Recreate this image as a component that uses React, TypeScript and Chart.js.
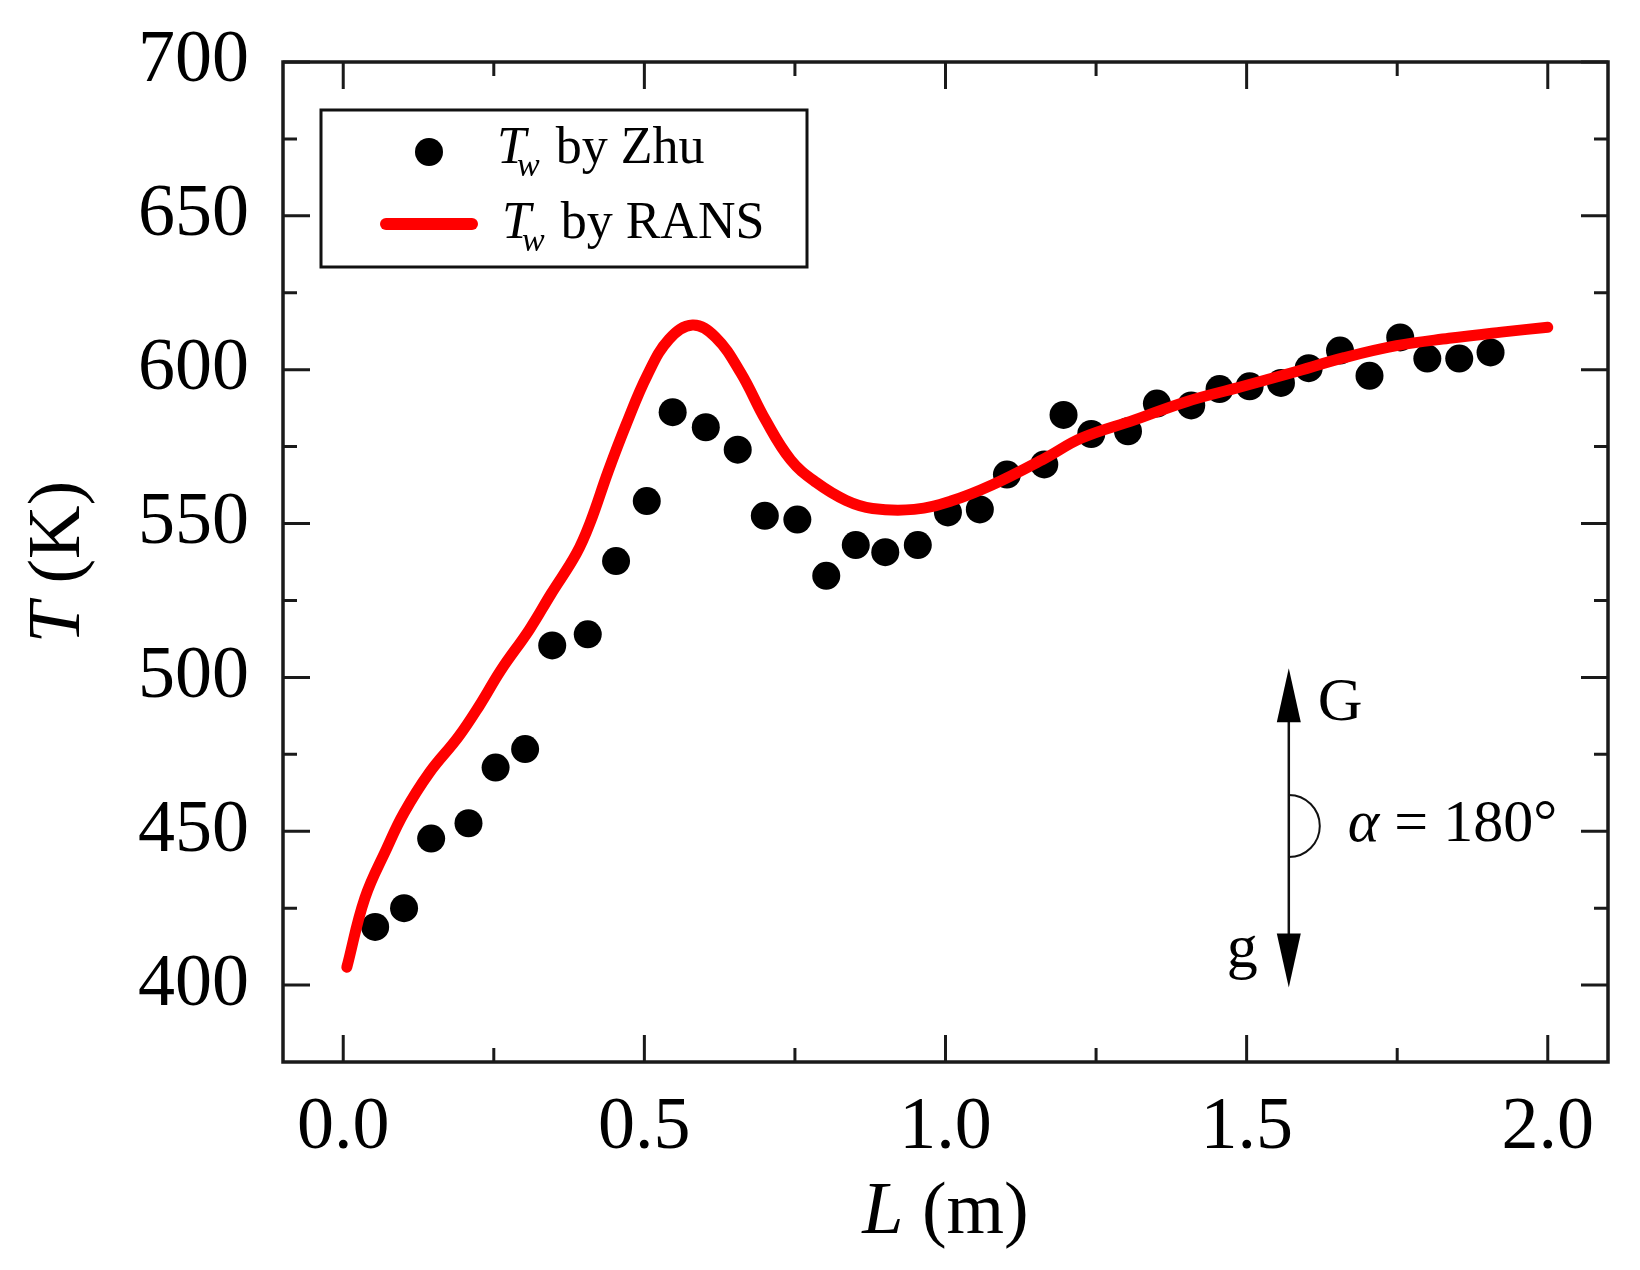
import React, { useEffect, useRef } from "react";
import { Chart, registerables } from "chart.js";

Chart.register(...registerables);

// Experimental wall temperature (Zhu)
const ZHU_L = [0.053, 0.101, 0.146, 0.208, 0.253, 0.302, 0.347, 0.406, 0.453, 0.504,
  0.547, 0.602, 0.655, 0.700, 0.754, 0.802, 0.851, 0.900, 0.954, 1.004,
  1.057, 1.102, 1.164, 1.196, 1.242, 1.303, 1.351, 1.408, 1.455, 1.505,
  1.557, 1.603, 1.655, 1.704, 1.755, 1.800, 1.853, 1.905];
const ZHU_T = [418.9, 425, 447.6, 452.6, 470.7, 476.7, 510.4, 514, 537.8, 557.3,
  586.2, 581.3, 574, 552.5, 551.3, 533, 543, 540.7, 543, 553.6,
  554.6, 565.9, 569.2, 585.3, 579.1, 580, 589, 588.4, 593.7, 594.6,
  595.7, 600.5, 606.2, 598, 610.5, 603.6, 603.6, 605.6];

// RANS wall temperature
const RANS_L = [0.006, 0.036, 0.072, 0.101, 0.143, 0.191, 0.226, 0.262, 0.309, 0.345,
  0.387, 0.410, 0.440, 0.470, 0.505, 0.541, 0.580, 0.618, 0.660, 0.701,
  0.743, 0.785, 0.835, 0.879, 0.948, 1.009, 1.078, 1.165, 1.226, 1.314,
  1.401, 1.488, 1.575, 1.662, 1.749, 1.836, 1.923, 2.0];
const RANS_T = [405.8, 428.3, 444.3, 456, 469, 480.6, 490.8, 502.4, 515.5, 527.1,
  540.2, 550.3, 567, 582.3, 598.3, 609.9, 614.5, 610.6, 599, 583.7,
  570.7, 563.4, 557.5, 554.9, 554.6, 557.3, 562.6, 571.2, 577.8, 583.7,
  589.7, 594.3, 599, 603.9, 607.8, 610.2, 612.2, 613.8];

const X_TICKS = [0, 0.5, 1.0, 1.5, 2.0];
const X_MINOR = [0.25, 0.75, 1.25, 1.75];
const Y_TICKS = [400, 450, 500, 550, 600, 650, 700];
const Y_MINOR = [425, 475, 525, 575, 625, 675];
const X_MIN = -0.1;
const X_MAX = 2.1;
const Y_MIN = 375;
const Y_MAX = 700;

const LEGEND_TEXT = ["by Zhu", "by RANS"];
const X_TITLE = ["L", " (m)"];
const Y_TITLE = ["T", " (K)"];
const ANGLE_TEXT = ["\u03B1", " = 180\u00B0"];

const SERIF = '"Liberation Serif", "Times New Roman", serif';

type Run = { text: string; font: string; dy?: number; dx?: number };

function drawRuns(ctx: CanvasRenderingContext2D, runs: Run[], x: number, y: number) {
  let cx = x;
  for (const r of runs) {
    ctx.font = r.font;
    cx += r.dx || 0;
    ctx.fillText(r.text, cx, y + (r.dy || 0));
    cx += ctx.measureText(r.text).width;
  }
  return cx - x;
}

function runsWidth(ctx: CanvasRenderingContext2D, runs: Run[]) {
  let w = 0;
  for (const r of runs) {
    ctx.font = r.font;
    w += (r.dx || 0) + ctx.measureText(r.text).width;
  }
  return w;
}

const decorPlugin = {
  id: "decor",
  beforeDraw(chart: any) {
    const ctx = chart.ctx;
    ctx.save();
    ctx.fillStyle = "#ffffff";
    ctx.fillRect(0, 0, chart.width, chart.height);
    ctx.restore();
  },
  afterDraw(chart: any) {
    const ctx: CanvasRenderingContext2D = chart.ctx;
    const { left, right, top, bottom } = chart.chartArea;
    const xs = chart.scales.x;
    const ys = chart.scales.y;
    ctx.save();

    // inward ticks on all four sides
    const MAJ = 27;
    const MIN = 14;
    ctx.strokeStyle = "#1a1a1a";
    ctx.lineWidth = 3;
    ctx.beginPath();
    const xt = (vals: number[], len: number) => {
      for (const v of vals) {
        const p = xs.getPixelForValue(v);
        ctx.moveTo(p, bottom);
        ctx.lineTo(p, bottom - len);
        ctx.moveTo(p, top);
        ctx.lineTo(p, top + len);
      }
    };
    const yt = (vals: number[], len: number) => {
      for (const v of vals) {
        const p = ys.getPixelForValue(v);
        ctx.moveTo(left, p);
        ctx.lineTo(left + len, p);
        ctx.moveTo(right, p);
        ctx.lineTo(right - len, p);
      }
    };
    xt(X_TICKS, MAJ);
    xt(X_MINOR, MIN);
    yt(Y_TICKS, MAJ);
    yt(Y_MINOR, MIN);
    ctx.stroke();

    // frame
    ctx.lineWidth = 3.5;
    ctx.strokeRect(left, top, right - left, bottom - top);

    ctx.fillStyle = "#000";
    ctx.textBaseline = "alphabetic";
    ctx.textAlign = "left";

    // x title
    const xRuns: Run[] = [
      { text: X_TITLE[0], font: `italic 74px ${SERIF}` },
      { text: X_TITLE[1], font: `74px ${SERIF}` },
    ];
    const xw = runsWidth(ctx, xRuns);
    drawRuns(ctx, xRuns, (left + right) / 2 - xw / 2, 1233);

    // y title (rotated)
    const yRuns: Run[] = [
      { text: Y_TITLE[0], font: `italic 74px ${SERIF}` },
      { text: Y_TITLE[1], font: `74px ${SERIF}` },
    ];
    const yw = runsWidth(ctx, yRuns);
    ctx.save();
    ctx.translate(60, (top + bottom) / 2);
    ctx.rotate(-Math.PI / 2);
    drawRuns(ctx, yRuns, -yw / 2, 19);
    ctx.restore();

    // legend
    const lx = left + 38;
    const ly = top + 48;
    const lw = 486;
    const lh = 157;
    ctx.fillStyle = "#fff";
    ctx.fillRect(lx, ly, lw, lh);
    ctx.strokeStyle = "#111";
    ctx.lineWidth = 3;
    ctx.strokeRect(lx, ly, lw, lh);

    ctx.fillStyle = "#000";
    ctx.beginPath();
    ctx.arc(lx + 108, ly + 42, 14, 0, Math.PI * 2);
    ctx.fill();

    ctx.strokeStyle = "#ff0000";
    ctx.lineWidth = 12;
    ctx.lineCap = "round";
    ctx.beginPath();
    ctx.moveTo(lx + 65, ly + 114);
    ctx.lineTo(lx + 151, ly + 114);
    ctx.stroke();
    ctx.lineCap = "butt";

    const legRow = (label: string, x: number, y: number) => {
      ctx.fillStyle = "#000";
      ctx.font = `italic 52px ${SERIF}`;
      ctx.fillText("T", x, y);
      ctx.font = `italic 34px ${SERIF}`;
      ctx.fillText("w", x + 20, y + 13);
      const ww = ctx.measureText("w").width;
      ctx.font = `52px ${SERIF}`;
      ctx.fillText(label, x + 20 + ww + 16, y);
    };
    legRow(LEGEND_TEXT[0], lx + 176, ly + 53);
    legRow(LEGEND_TEXT[1], lx + 181, ly + 128);

    // gravity annotation
    const ax = xs.getPixelForValue(1.57);
    const tipTop = ys.getPixelForValue(503);
    const tipBot = ys.getPixelForValue(399.2);
    const arcY = ys.getPixelForValue(451.7);
    const HL = 54;
    const HW = 12;
    ctx.strokeStyle = "#111";
    ctx.lineWidth = 2.5;
    ctx.beginPath();
    ctx.moveTo(ax, tipTop + HL - 2);
    ctx.lineTo(ax, tipBot - HL + 2);
    ctx.stroke();
    ctx.fillStyle = "#000";
    ctx.beginPath();
    ctx.moveTo(ax, tipTop);
    ctx.lineTo(ax - HW, tipTop + HL);
    ctx.lineTo(ax + HW, tipTop + HL);
    ctx.closePath();
    ctx.fill();
    ctx.beginPath();
    ctx.moveTo(ax, tipBot);
    ctx.lineTo(ax - HW, tipBot - HL);
    ctx.lineTo(ax + HW, tipBot - HL);
    ctx.closePath();
    ctx.fill();
    ctx.lineWidth = 2;
    ctx.beginPath();
    ctx.arc(ax, arcY, 31, -Math.PI / 2, Math.PI / 2);
    ctx.stroke();

    ctx.font = `62px ${SERIF}`;
    ctx.textAlign = "left";
    ctx.fillText("G", ax + 29, tipTop + 52);
    ctx.textAlign = "right";
    ctx.fillText("g", ax - 31, tipBot - 21);
    ctx.textAlign = "left";
    drawRuns(ctx, [
      { text: ANGLE_TEXT[0], font: `italic 60px ${SERIF}` },
      { text: ANGLE_TEXT[1], font: `60px ${SERIF}` },
    ], ax + 59, arcY + 15);

    ctx.restore();
  },
};

export default function App() {
  const ref = useRef<HTMLCanvasElement | null>(null);

  useEffect(() => {
    const canvas = ref.current;
    if (!canvas) return;
    const zhu = ZHU_L.map((x, i) => ({ x, y: ZHU_T[i] }));
    const rans = RANS_L.map((x, i) => ({ x, y: RANS_T[i] }));
    const tickFont = { family: SERIF, size: 74 };
    const chart = new Chart(canvas, {
      type: "scatter",
      data: {
        datasets: [
          {
            type: "line",
            label: "Tw by RANS",
            data: rans,
            borderColor: "#ff0000",
            backgroundColor: "#ff0000",
            borderWidth: 11,
            borderCapStyle: "round",
            borderJoinStyle: "round",
            pointRadius: 0,
            tension: 0.4,
            fill: false,
            order: 0,
          } as any,
          {
            type: "scatter",
            label: "Tw by Zhu",
            data: zhu,
            backgroundColor: "#000",
            borderColor: "#000",
            borderWidth: 0,
            pointRadius: 14,
            pointHoverRadius: 14,
            order: 1,
          } as any,
        ],
      },
      options: {
        animation: false,
        responsive: false,
        devicePixelRatio: 1,
        events: [],
        layout: { padding: { top: 62, right: 32, left: 0, bottom: 0 } },
        plugins: {
          legend: { display: false },
          tooltip: { enabled: false },
          title: { display: false },
        },
        scales: {
          x: {
            type: "linear",
            min: X_MIN,
            max: X_MAX,
            grid: { display: false, drawTicks: false },
            border: { display: false },
            afterBuildTicks: (s: any) => {
              s.ticks = X_TICKS.map((v) => ({ value: v }));
            },
            afterFit: (s: any) => {
              s.height = 208;
              s.paddingLeft = 0;
              s.paddingRight = 0;
              s.paddingTop = 0;
              s.paddingBottom = 0;
            },
            ticks: {
              font: tickFont,
              color: "#000",
              padding: 22,
              maxRotation: 0,
              autoSkip: false,
              callback: (v: any) => Number(v).toFixed(1),
            },
          },
          y: {
            type: "linear",
            min: Y_MIN,
            max: Y_MAX,
            grid: { display: false, drawTicks: false },
            border: { display: false },
            afterBuildTicks: (s: any) => {
              s.ticks = Y_TICKS.map((v) => ({ value: v }));
            },
            afterFit: (s: any) => {
              s.width = 283;
              s.paddingLeft = 0;
              s.paddingRight = 0;
              s.paddingTop = 0;
              s.paddingBottom = 0;
            },
            ticks: {
              font: tickFont,
              color: "#000",
              padding: 34,
              autoSkip: false,
              callback: (v: any) => String(v),
            },
          },
        },
      },
      plugins: [decorPlugin],
    });
    return () => chart.destroy();
  }, []);

  return (
    <div style={{ position: "absolute", left: 0, top: 0, width: 1640, height: 1270, background: "#fff" }}>
      <canvas ref={ref} width={1640} height={1270} style={{ width: 1640, height: 1270, display: "block" }} />
    </div>
  );
}
